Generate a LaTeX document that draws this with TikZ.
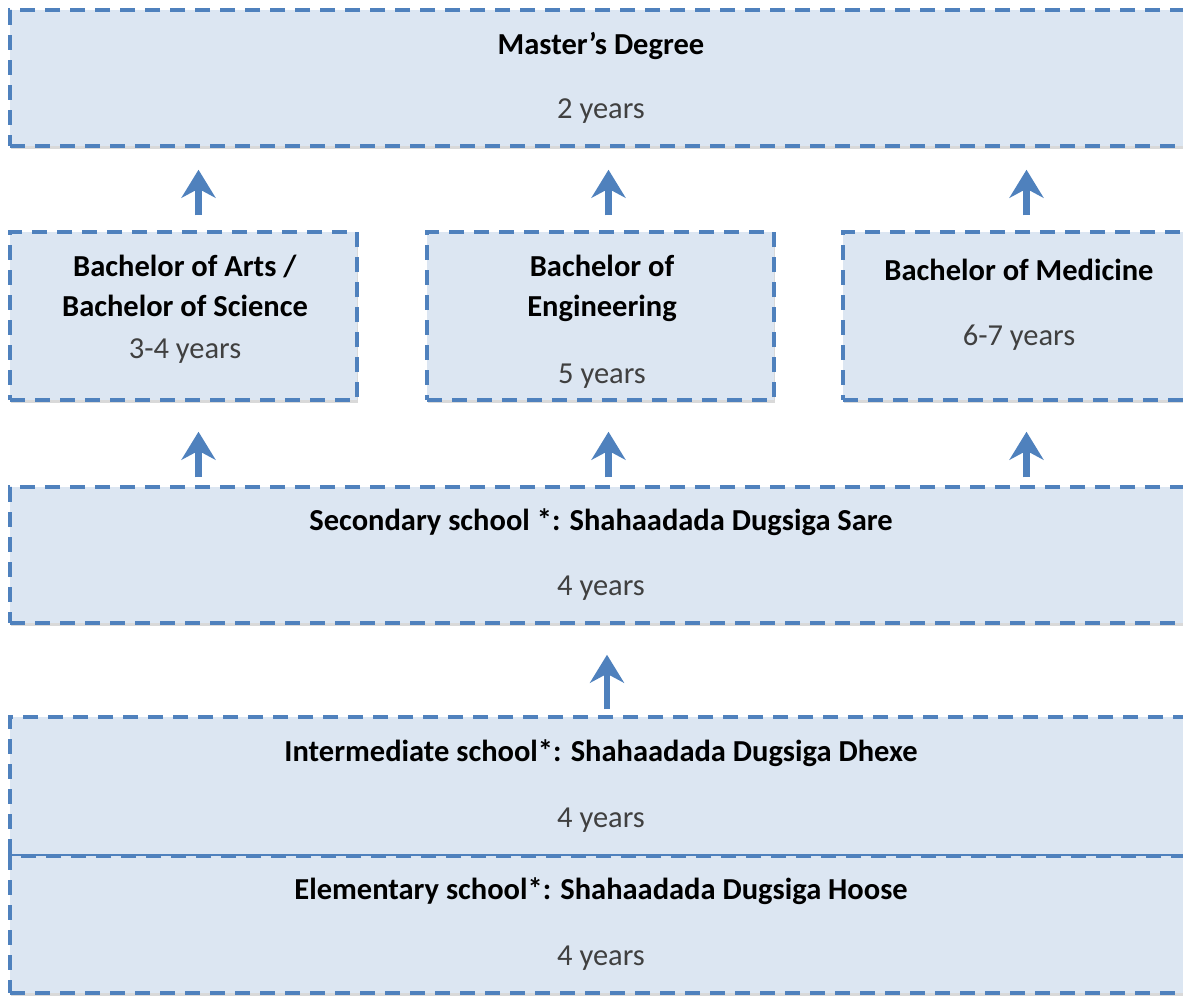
\documentclass[tikz,border=0pt]{standalone}
\usepackage{fontspec}
\setmainfont{Carlito}
\usetikzlibrary{arrows.meta,shadows}
\definecolor{edgeblue}{HTML}{4F81BD}
\definecolor{boxfill}{HTML}{DCE6F2}

\begin{document}
\begin{tikzpicture}[x=1pt,y=-1pt,
    box/.style={draw=edgeblue, fill=boxfill, line width=3.5pt,
      dash pattern=on 15pt off 10pt, inner sep=0pt, align=center,
      text=black!75, font=\fontsize{30.5}{40}\selectfont,
      drop shadow={fill=black, opacity=0.15, shadow xshift=1pt, shadow yshift=-3pt}},
    widebox/.style={box, minimum width=1182pt},
    degbox/.style={box, minimum width=347pt, minimum height=168pt},
    txt/.style={align=center, text=black!75, font=\fontsize{30.5}{40}\selectfont},
    up/.style={edgeblue, line width=6.5pt,
      -{Stealth[length=28pt, width=34pt, inset=9pt]}}]
  \useasboundingbox (0,0) rectangle (1183,996);
  \clip (0,0) rectangle (1183,996);

  % top level
  \node[widebox, minimum height=136pt] (master) at (601,78)
    {\textcolor{black}{\textbf{Master’s Degree}}\\[24pt]2 years};

  % bachelor degrees
  \node[degbox] (bsc) at (183.5,316) {};
  \node[txt] (bsctxt) at (185,309)
    {\textcolor{black}{\textbf{Bachelor of Arts /}}\\\textcolor{black}{\textbf{Bachelor of Science}}\\[2pt]3-4 years};
  \node[degbox] (eng) at (600.5,316) {};
  \node[txt] (engtxt) at (602,321.5)
    {\textcolor{black}{\textbf{Bachelor of}}\\\textcolor{black}{\textbf{Engineering}}\\[27pt]5 years};
  \node[degbox] (med) at (1016.5,316) {};
  \node[txt] (medtxt) at (1019,304.5)
    {\textcolor{black}{\textbf{Bachelor of Medicine}}\\[25pt]6-7 years};

  % schools
  \node[widebox, minimum height=136pt] (sec) at (601,555)
    {\textcolor{black}{\textbf{Secondary school *: Shahaadada Dugsiga Sare}}\\[25pt]4 years};
  \node[widebox, minimum height=139pt] (inter) at (601,786.5)
    {\textcolor{black}{\textbf{Intermediate school*: Shahaadada Dugsiga Dhexe}}\\[26pt]4 years};
  \node[widebox, minimum height=137pt] (elem) at (601,924.5)
    {\textcolor{black}{\textbf{Elementary school*: Shahaadada Dugsiga Hoose}}\\[26pt]4 years};

  % arrows
  \draw[up, shorten <=15pt, shorten >=22pt] ([xshift=15pt]bsc.north) -- ([xshift=15pt]bsc.north |- master.south);
  \draw[up, shorten <=15pt, shorten >=22pt] ([xshift=8pt]eng.north) -- ([xshift=8pt]eng.north |- master.south);
  \draw[up, shorten <=15pt, shorten >=22pt] ([xshift=10pt]med.north) -- ([xshift=10pt]med.north |- master.south);
  \draw[up, shorten <=8pt, shorten >=30pt] ([xshift=15pt]sec.north -| bsc.north) -- ([xshift=15pt]bsc.south);
  \draw[up, shorten <=8pt, shorten >=30pt] ([xshift=8pt]sec.north -| eng.north) -- ([xshift=8pt]eng.south);
  \draw[up, shorten <=8pt, shorten >=30pt] ([xshift=10pt]sec.north -| med.north) -- ([xshift=10pt]med.south);
  \draw[up, shorten <=6pt, shorten >=30pt] ([xshift=6pt]inter.north) -- ([xshift=6pt]sec.south);
\end{tikzpicture}
\end{document}
